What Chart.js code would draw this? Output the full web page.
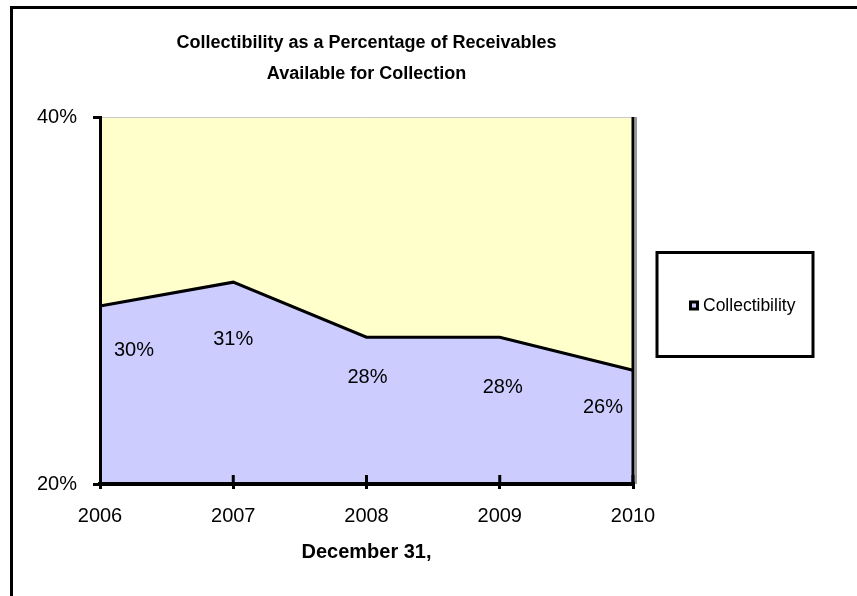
<!DOCTYPE html>
<html>
<head>
<meta charset="utf-8">
<script src="https://cdn.jsdelivr.net/npm/chart.js@4.4.0/dist/chart.umd.min.js"></script>
<style>
  body { margin: 0; background: #fff; }
</style>
</head>
<body>
<canvas id="myChart" width="857" height="596"></canvas>
<script>
var years = ['2006', '2007', '2008', '2009', '2010'];
var collectibility = [29.7, 31.0, 28.0, 28.0, 26.2];
var yTicks = [20, 40];
var titleLines = ['Collectibility as a Percentage of Receivables', 'Available for Collection'];
var xTitle = 'December 31,';
var seriesName = 'Collectibility';

// where each data label sits relative to its point (dx, dy)
var labelNudge = [[34, 44], [0, 57], [1, 40], [3, 50], [-30, 37]];

var FONT = '"Liberation Sans", Arial, sans-serif';

var frame = {
  id: 'frame',
  beforeDraw: function(chart) {
    var c = chart.ctx, a = chart.chartArea;
    c.save();
    c.fillStyle = '#ffffcc';
    c.fillRect(a.left, a.top, a.right - a.left, a.bottom - a.top);
    // outer border (top + left only)
    c.strokeStyle = '#000';
    c.lineWidth = 3;
    c.beginPath();
    c.moveTo(11.5, 596);
    c.lineTo(11.5, 7.5);
    c.lineTo(857, 7.5);
    c.stroke();
    c.restore();
  },
  afterDatasetsDraw: function(chart) {
    var c = chart.ctx, a = chart.chartArea, xs = chart.scales.x;
    c.save();
    // top edge, thin grey
    c.strokeStyle = '#c8c8c8';
    c.lineWidth = 1;
    c.beginPath();
    c.moveTo(a.left, a.top + 0.5);
    c.lineTo(a.right, a.top + 0.5);
    c.stroke();
    // right edge with shadow
    c.strokeStyle = '#999';
    c.lineWidth = 2;
    c.beginPath();
    c.moveTo(a.right + 3, a.top);
    c.lineTo(a.right + 3, a.bottom);
    c.stroke();
    c.strokeStyle = '#000';
    c.lineWidth = 3;
    c.beginPath();
    c.moveTo(a.right, a.top);
    c.lineTo(a.right, a.bottom);
    c.stroke();
    // cross ticks above the axis
    for (var i = 1; i < years.length; i++) {
      var px = xs.getPixelForTick(i);
      c.beginPath();
      c.moveTo(px, a.bottom - 9);
      c.lineTo(px, a.bottom);
      c.stroke();
    }
    // data labels
    var meta = chart.getDatasetMeta(0);
    c.fillStyle = '#000';
    c.font = '20px ' + FONT;
    c.textAlign = 'center';
    c.textBaseline = 'middle';
    meta.data.forEach(function(pt, i) {
      var v = chart.data.datasets[0].data[i];
      c.fillText(Math.round(v) + '%', pt.x + labelNudge[i][0], pt.y + labelNudge[i][1]);
    });
    c.restore();
  },
  afterDraw: function(chart) {
    var c = chart.ctx, a = chart.chartArea, ds = chart.data.datasets[0];
    var x = a.right + 24, w = 156, h = 104;
    var y = (a.top + a.bottom) / 2 - h / 2 + 4;
    c.save();
    c.fillStyle = '#fff';
    c.fillRect(x, y, w, h);
    c.strokeStyle = '#000';
    c.lineWidth = 3;
    c.strokeRect(x, y, w, h);
    var my = y + h / 2;
    c.fillStyle = '#000';
    c.fillRect(x + 32, my - 4, 10, 10);
    c.fillStyle = ds.backgroundColor;
    c.fillRect(x + 35, my - 1, 4, 4);
    c.font = '17.5px ' + FONT;
    c.fillStyle = '#000';
    c.textAlign = 'left';
    c.textBaseline = 'middle';
    c.fillText(ds.label, x + 46, my + 2);
    c.restore();
  }
};

var ctx = document.getElementById('myChart').getContext('2d');

var myChart = new Chart(ctx, {
  type: 'line',
  data: {
    labels: years,
    datasets: [{
      label: seriesName,
      data: collectibility,
      fill: 'start',
      backgroundColor: '#ccccff',
      borderColor: '#000',
      borderWidth: 3,
      tension: 0,
      pointRadius: 0
    }]
  },
  options: {
    responsive: false,
    animation: false,
    layout: { padding: { left: 0, right: 224, top: 0, bottom: 0 } },
    plugins: {
      legend: { display: false },
      tooltip: { enabled: false },
      title: {
        display: true,
        fullSize: false,
        text: titleLines,
        color: '#000',
        font: { family: FONT, size: 18, weight: 'bold', lineHeight: '31px' },
        padding: { top: 28, bottom: 27 }
      }
    },
    scales: {
      x: {
        grid: { drawOnChartArea: false, color: '#000', lineWidth: 3, tickLength: 5 },
        border: { color: '#000', width: 4, z: 1 },
        ticks: { color: '#000', font: { family: FONT, size: 20 }, padding: 15, maxRotation: 0, autoSkip: false },
        title: {
          display: true,
          text: xTitle,
          color: '#000',
          font: { family: FONT, size: 20, weight: 'bold' },
          padding: { top: 0, bottom: 32 }
        },
        afterFit: function(s) { s.height = 112; s.paddingLeft = 0; s.paddingRight = 0; }
      },
      y: {
        min: 20,
        max: 40,
        afterBuildTicks: function(s) { s.ticks = yTicks.map(function(v) { return { value: v }; }); },
        grid: { drawOnChartArea: false, color: '#000', lineWidth: 3, tickLength: 7 },
        border: { color: '#000', width: 3, z: 1 },
        ticks: {
          color: '#000',
          font: { family: FONT, size: 20 },
          padding: 16,
          callback: function(v) { return v + '%'; }
        },
        afterFit: function(s) { s.width = 100; s.paddingTop = 0; s.paddingBottom = 0; }
      }
    }
  },
  plugins: [frame]
});
</script>
</body>
</html>
